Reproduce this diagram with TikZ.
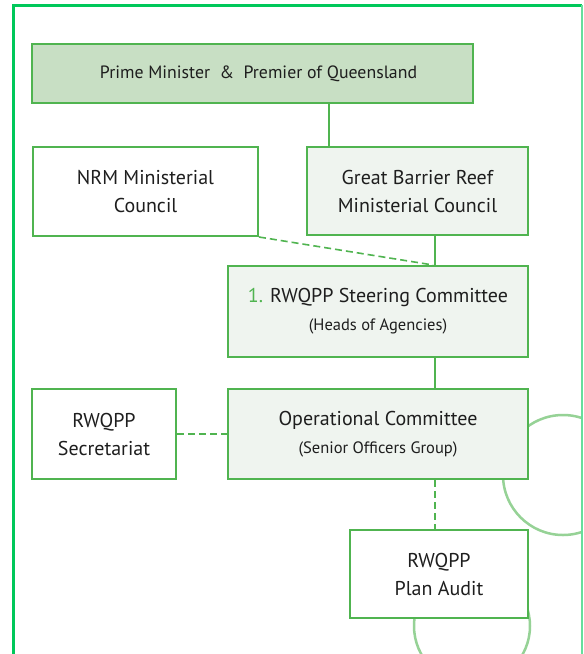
\documentclass[tikz,border=0pt]{standalone}
\usepackage{fontspec}
\setmainfont{PT Sans}
\usetikzlibrary{positioning}
\definecolor{frameg}{RGB}{0,200,90}
\definecolor{boxg}{RGB}{80,180,80}
\definecolor{ringg}{RGB}{150,210,150}
\definecolor{pmfill}{RGB}{200,223,196}
\definecolor{palefill}{RGB}{239,244,239}
\definecolor{txt}{RGB}{30,30,30}
\tikzstyle{plainbox} = [rectangle, draw=boxg, line width=2pt, fill=white, text=txt, align=center, font=\fontsize{20}{28}\selectfont, inner sep=0pt]
\tikzstyle{palebox} = [plainbox, fill=palefill]
\tikzstyle{topbox} = [plainbox, fill=pmfill, font=\fontsize{17.8}{28}\selectfont]
\tikzstyle{link} = [draw=boxg, line width=1.6pt]
\tikzstyle{dashlink} = [link, dash pattern=on 7pt off 4pt]
\newcommand{\sublabel}[1]{{\fontsize{16.5}{14}\selectfont #1}}

\begin{document}
\begin{tikzpicture}[x=1pt, y=-1pt]
	\useasboundingbox (0,0) rectangle (584,654);
	\fill[white] (0,0) rectangle (584,654);
	% rings behind the boxes
	\begin{scope}
		\clip (14,6) rectangle (581,654);
		\draw[ringg, line width=2.5pt] (563,475) circle (60);
		\draw[ringg, line width=2.5pt] (472,626) circle (58);
	\end{scope}
	% frame
	\draw[frameg, line width=3pt] (13,654) -- (13,5) -- (582,5);
	\draw[frameg!60, line width=1.5pt] (582,5) -- (582,654);

	\node (pm) [topbox, minimum width=441pt, minimum height=59pt] at (252.5,73.5) {\hspace{12pt}Prime Minister \ \&\ \ Premier of Queensland};
	\node (nrm) [plainbox, minimum width=225pt, minimum height=89pt] at (145.5,191.5) {NRM Ministerial\\Council};
	\node (gbr) [palebox, minimum width=221pt, minimum height=88pt] at (417.5,191) {Great Barrier Reef\\Ministerial Council};
	\node (steer) [palebox, minimum width=300pt, minimum height=91pt] at (378,311.5) {{\color{boxg}1.} RWQPP Steering Committee\\\sublabel{(Heads of Agencies)}};
	\node (sec) [plainbox, minimum width=144pt, minimum height=90pt] at (104,434) {RWQPP\\Secretariat};
	\node (oper) [palebox, minimum width=300pt, minimum height=90pt] at (378,434) {Operational Committee\\\sublabel{(Senior Officers Group)}};
	\node (audit) [plainbox, minimum width=178pt, minimum height=88pt] at (439,574) {RWQPP\\Plan Audit};

	\draw [link] ([xshift=23pt]gbr.north west) -- ([xshift=23pt]gbr.north west |- pm.south);
	\draw [link] ([xshift=17.5pt]gbr.south) -- ([xshift=17.5pt]gbr.south |- steer.north);
	\draw [dashlink] (nrm.south east) -- ([xshift=55pt]steer.north);
	\draw [link] ([xshift=57pt]steer.south) -- ([xshift=57pt]oper.north);
	\draw [dashlink] (sec.east) -- (oper.west);
	\draw [dashlink] ([xshift=57pt]oper.south) -- ([xshift=57pt]oper.south |- audit.north);
\end{tikzpicture}
\end{document}
